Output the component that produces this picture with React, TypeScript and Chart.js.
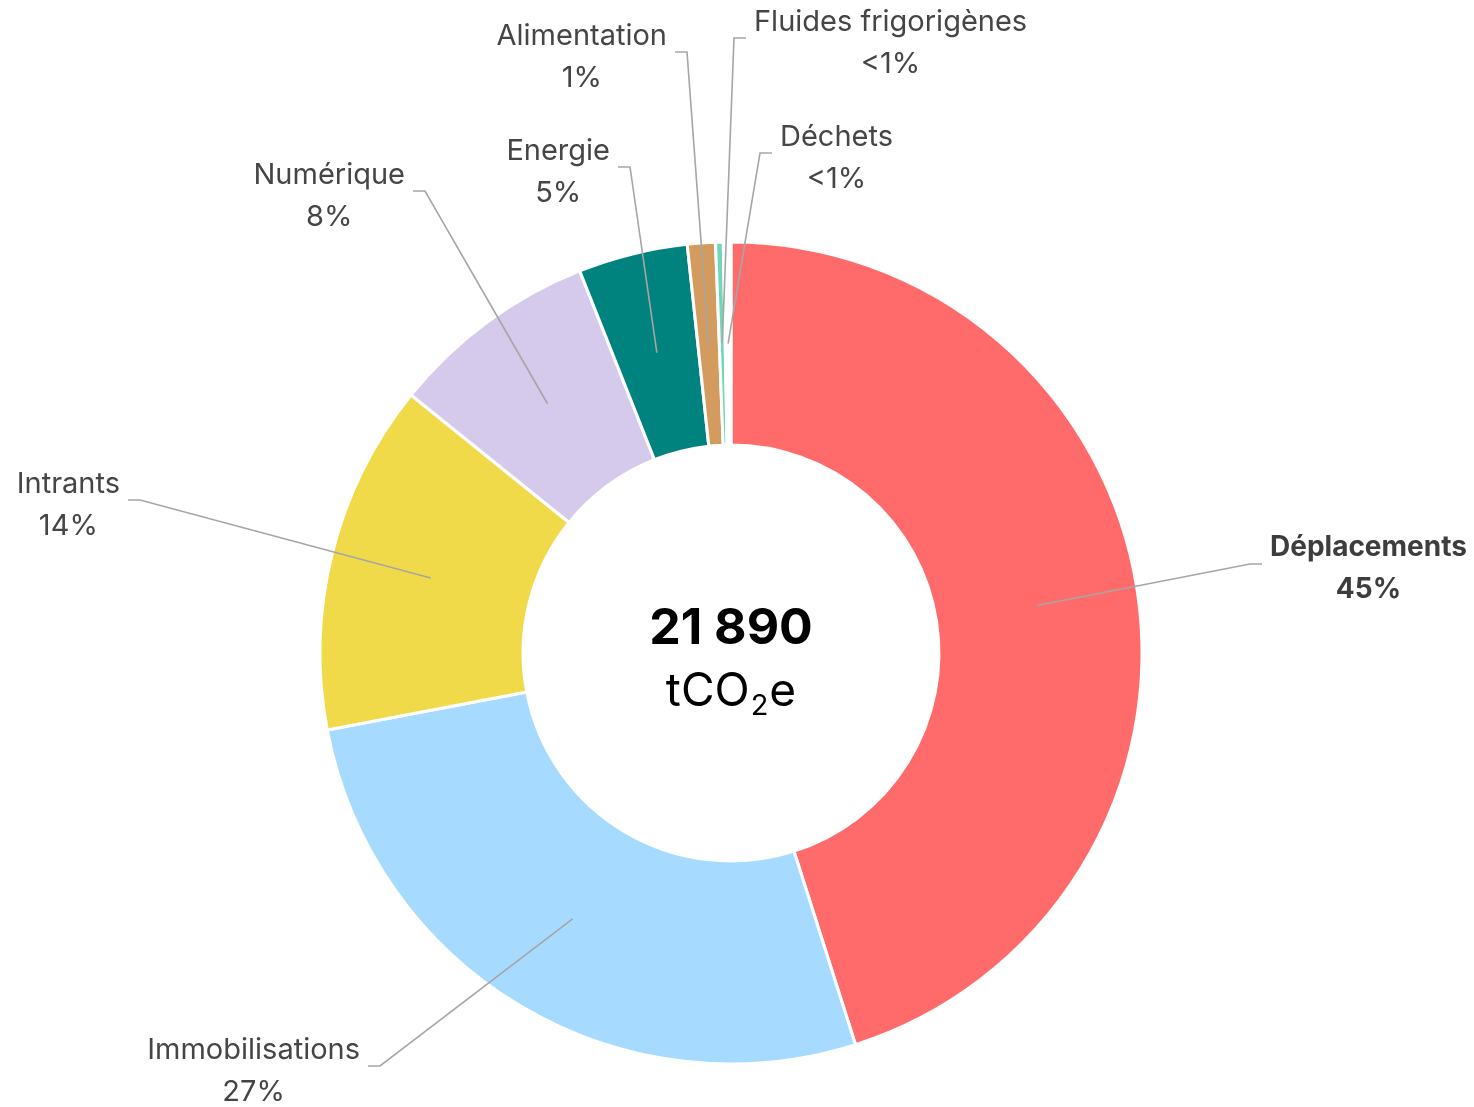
import React, { useEffect, useRef } from 'react';
import { Chart, registerables } from 'chart.js';

Chart.register(...registerables);

const categories = [
  'Déplacements',
  'Immobilisations',
  'Intrants',
  'Numérique',
  'Energie',
  'Alimentation',
  'Fluides frigorigènes',
  'Déchets',
];
const shares = [45.1, 26.9, 13.8, 8.2, 4.3, 1.1, 0.3, 0.3];
const shareLabels = ['45%', '27%', '14%', '8%', '5%', '1%', '<1%', '<1%'];
const totalLabel = '21 890';
const unitParts = ['tCO', '2', 'e'];

const colors = [
  '#FF6B6B',
  '#A6DBFF',
  '#F1DA4A',
  '#D5CAEB',
  '#00837E',
  '#D39C5E',
  '#6ED8B5',
  '#FFFFFF',
];

// elbow of each leader line, offset from the doughnut centre (px), and side of the text (1 = right, -1 = left)
const labelElbows: [number, number, number][] = [
  [519, -89, 1],
  [-351, 413, -1],
  [-591, -153, -1],
  [-306, -462, -1],
  [-101, -486, -1],
  [-44, -601, -1],
  [3, -615, 1],
  [29, -500, 1],
];

const FONT = 'Inter, "Noto Sans", sans-serif';

const leaderPlugin = {
  id: 'leaderLabels',
  afterDatasetsDraw(chart: any) {
    const ctx = chart.ctx as CanvasRenderingContext2D;
    const meta = chart.getDatasetMeta(0);
    let cx0 = 0;
    let cy0 = 0;
    meta.data.forEach((arc: any, i: number) => {
      const p = arc.getProps(['x', 'y', 'startAngle', 'endAngle', 'innerRadius', 'outerRadius'], true);
      cx0 = p.x;
      cy0 = p.y;
      const mid = (p.startAngle + p.endAngle) / 2;
      const r = (p.innerRadius + p.outerRadius) / 2;
      const ax = p.x + Math.cos(mid) * r;
      const ay = p.y + Math.sin(mid) * r;
      const [dx, dy, side] = labelElbows[i];
      const ex = p.x + dx;
      const ey = p.y + dy;
      const tx = ex + side * 12;
      ctx.save();
      ctx.strokeStyle = '#a6a6a6';
      ctx.lineWidth = 1.6;
      ctx.beginPath();
      ctx.moveTo(ax, ay);
      ctx.lineTo(ex, ey);
      ctx.lineTo(tx, ey);
      ctx.stroke();
      const bold = i === 0;
      ctx.font = `${bold ? '700 28px' : '400 29px'} ${FONT}`;
      const w = Math.max(ctx.measureText(categories[i]).width, ctx.measureText(shareLabels[i]).width);
      const cx = side > 0 ? tx + 8 + w / 2 : tx - 8 - w / 2;
      ctx.textAlign = 'center';
      ctx.textBaseline = 'middle';
      ctx.fillStyle = bold ? '#3d3d3d' : '#454545';
      ctx.fillText(categories[i], cx, ey - 16);
      ctx.fillText(shareLabels[i], cx, ey + 26);
      ctx.restore();
    });

    // centre text
    ctx.save();
    ctx.fillStyle = '#000000';
    ctx.textAlign = 'center';
    ctx.textBaseline = 'middle';
    ctx.font = `700 50px ${FONT}`;
    ctx.fillText(totalLabel, cx0, cy0 - 24);
    const big = `400 46px ${FONT}`;
    const small = `400 29px ${FONT}`;
    ctx.font = big;
    const w0 = ctx.measureText(unitParts[0]).width;
    const w2 = ctx.measureText(unitParts[2]).width;
    ctx.font = small;
    const w1 = ctx.measureText(unitParts[1]).width;
    const total = w0 + w1 + w2 + 2;
    let x = cx0 - total / 2;
    const by = cy0 + 53;
    ctx.textAlign = 'left';
    ctx.textBaseline = 'alphabetic';
    ctx.font = big;
    ctx.fillText(unitParts[0], x, by);
    x += w0 + 1;
    ctx.font = small;
    ctx.fillText(unitParts[1], x, by + 9);
    x += w1 + 1;
    ctx.font = big;
    ctx.fillText(unitParts[2], x, by);
    ctx.restore();
  },
};

export default function App() {
  const ref = useRef<HTMLCanvasElement>(null);
  useEffect(() => {
    document.body.style.margin = '0';
    const canvas = ref.current;
    if (!canvas) return;
    const chart = new Chart(canvas, {
      type: 'doughnut',
      data: {
        labels: categories,
        datasets: [
          {
            data: shares,
            backgroundColor: colors,
            borderColor: '#ffffff',
            borderWidth: 3,
            hoverOffset: 0,
          },
        ],
      },
      options: {
        responsive: false,
        animation: false,
        radius: 411,
        cutout: '50.6%',
        layout: { padding: { left: 0, right: 12, top: 199, bottom: 0 } },
        plugins: {
          legend: { display: false },
          tooltip: { enabled: false },
        },
      },
      plugins: [leaderPlugin],
    });
    return () => chart.destroy();
  }, []);
  return (
    <div style={{ width: 1474, height: 1107, background: '#fff' }}>
      <canvas ref={ref} width={1474} height={1107} style={{ display: 'block' }} />
    </div>
  );
}
